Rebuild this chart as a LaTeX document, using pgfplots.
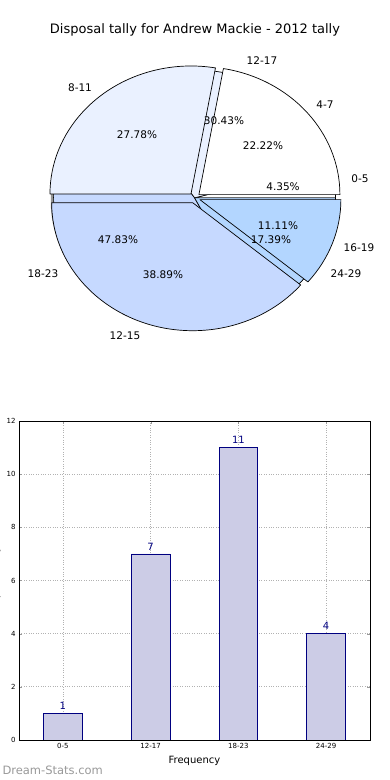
\documentclass[border=0pt]{standalone}
\usepackage{fontspec}
\setmainfont{DejaVu Sans}
\usepackage{pgfplots}
\pgfplotsset{compat=1.18}
\definecolor{pw}{HTML}{FFFFFF}
\definecolor{pl}{HTML}{EAF1FF}
\definecolor{pm}{HTML}{C6D9FF}
\definecolor{pb}{HTML}{B3D6FF}
\definecolor{barfill}{RGB}{204,204,230}
\definecolor{navy}{HTML}{000080}
% #1 start angle, #2 end angle, #3 explode, #4 colour
\newcommand\pieslice[4]{%
  \filldraw[fill=#4, draw=black, line width=0.7pt, line join=round]
    (axis cs:{#3*cos((#1+#2)/2)},{#3*sin((#1+#2)/2)}) --
    (axis cs:{#3*cos((#1+#2)/2)+cos(#1)},{#3*sin((#1+#2)/2)+sin(#1)})
    arc[start angle={#1}, end angle={#2}, x radius=1, y radius=1] -- cycle;}
\begin{document}
\begin{tikzpicture}[x=1pt,y=1pt]
\useasboundingbox (0,0) rectangle (390,780);
\node[font=\fontsize{13}{15}\selectfont] at (195,750) {Disposal tally for Andrew Mackie - 2012 tally};
\begin{axis}[at={(194.6pt,582.1pt)}, anchor=origin, x=141pt, y=128pt, hide axis,
  xmin=-1.3, xmax=1.3, ymin=-1.3, ymax=1.3, clip=false]
  % shadow
  \fill[black!60, opacity=0.7] (axis cs:-0.02,-0.024) ellipse[x radius=1, y radius=1];
  % pie A: 1, 7, 11, 4 (total 23)
  \pieslice{0}{360*1/23}{0}{pw}
  \pieslice{360*1/23}{360*8/23}{0}{pl}
  \pieslice{360*8/23}{360*19/23}{0}{pm}
  \pieslice{360*19/23}{360}{0}{pb}
  % pie B: 4, 5, 7, 2 (total 18)
  \pieslice{0}{360*4/18}{0.04}{pw}
  \pieslice{360*4/18}{360*9/18}{0.04}{pl}
  \pieslice{360*9/18}{360*16/18}{0.04}{pm}
  \pieslice{360*16/18}{360}{0.04}{pb}
\end{axis}
\begin{scope}[font=\fontsize{10.5}{12}\selectfont]
  \node at (224,659) {30.43\%};
  \node at (137,645) {27.78\%};
  \node at (263,634) {22.22\%};
  \node at (283,593) {4.35\%};
  \node at (278,554) {11.11\%};
  \node at (271,540) {17.39\%};
  \node at (118,540) {47.83\%};
  \node at (163,505) {38.89\%};
  \node at (262,719) {12-17};
  \node at (80,692) {8-11};
  \node at (325,675) {4-7};
  \node at (360,601) {0-5};
  \node at (359,532) {16-19};
  \node at (346,506) {24-29};
  \node at (43,506) {18-23};
  \node at (125,444) {12-15};
\end{scope}
\begin{axis}[at={(19pt,40pt)}, anchor=south west, width=351pt, height=319pt, scale only axis,
  xmin=-0.5, xmax=3.5, ymin=0, ymax=12,
  xtick={0,1,2,3}, xticklabels={0-5,12-17,18-23,24-29},
  ytick={0,2,4,6,8,10,12},
  grid=major, grid style={black!30, dotted, line width=0.7pt},
  tick label style={font=\fontsize{7}{8}\selectfont},
  /pgf/number format/assume math mode=true,
  xlabel={Frequency}, xlabel style={font=\fontsize{10}{12}\selectfont, yshift=-1pt},
  tick style={black!40}, major tick length=3pt, tick align=inside,
  axis line style={black, line width=0.8pt}]
  \addplot[ybar, bar width=0.44, fill=barfill, draw=navy, line width=0.7pt,
    nodes near coords, nodes near coords style={text=navy, font=\fontsize{10}{12}\selectfont}]
    coordinates {(0,1) (1,7) (2,11) (3,4)};
\end{axis}
\node[rotate=90, anchor=south, font=\fontsize{10}{12}\selectfont] at (4,199.5) {Disposal Tally};
\node[anchor=west, text=black!40, font=\fontsize{11.5}{13}\selectfont] at (-1,10) {Dream-Stats.com};
\end{tikzpicture}
\end{document}
